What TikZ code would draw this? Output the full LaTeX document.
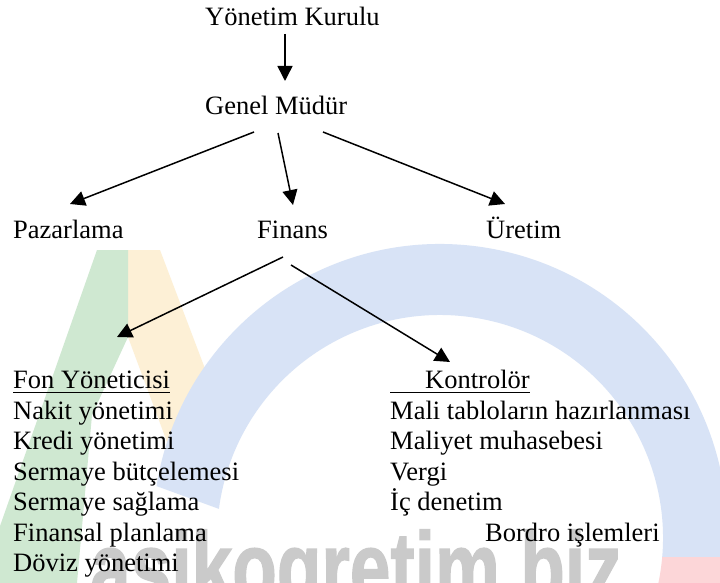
\documentclass[tikz,border=0pt]{standalone}
\usepackage{fontspec}
\usepackage{graphicx}
\setmainfont{Liberation Serif}
\newfontfamily\wmfont[FakeBold=1.5]{Liberation Sans}
\usetikzlibrary{arrows.meta}
\definecolor{wmblue}{HTML}{D8E3F6}
\definecolor{wmgreen}{HTML}{CFE8D1}
\definecolor{wmyellow}{HTML}{FDF0D6}
\definecolor{wmpink}{HTML}{FCD6D8}
\definecolor{wmgrey}{HTML}{CACACA}
\tikzset{
  lbl/.style={anchor=base west, inner sep=0pt, font=\fontsize{26.5}{30}\selectfont},
  arr/.style={line width=1.5pt, -{Triangle[length=15pt,width=15pt]}},
  uline/.style={line width=1.7pt}
}
\begin{document}
\begin{tikzpicture}[x=1pt,y=-1pt]
\useasboundingbox (0,0) rectangle (720,583);
\fill[white] (0,0) rectangle (720,583);
% ---- watermark ----
\fill[wmyellow] (128,250) -- (160,250) -- (215,395) -- (170,450) -- (128,337) -- cycle;
\fill[wmgreen] (97,250) -- (128,250) -- (128,337) -- (92,415) -- (77,583) -- (-20,583) -- cycle;
\coordinate (ro) at (440,531);
\coordinate (ri) at (440,538);
\begin{scope}
  \clip (0,0) rectangle (720,557);
  \fill[wmblue] ([shift={(-171:287)}]ro) arc[start angle=-171,end angle=60,radius=287]
     -- ([shift={(60:223)}]ri) arc[start angle=60,end angle=-172.5,radius=223] -- cycle;
\end{scope}
\begin{scope}
  \clip (0,557) rectangle (720,583);
  \fill[wmpink] ([shift={(-171:287)}]ro) arc[start angle=-171,end angle=60,radius=287]
     -- ([shift={(60:223)}]ri) arc[start angle=60,end angle=-172.5,radius=223] -- cycle;
\end{scope}
\node[anchor=base west, inner sep=0pt, text=wmgrey, font=\wmfont\bfseries\fontsize{100}{100}\selectfont] (wm) at (90,602) {\scalebox{0.73}[1]{asikogretim.biz}};
% ---- chart ----
\node[lbl] (yk) at (205,26) {Yönetim Kurulu};
\node[lbl] (gm) at (205,115) {Genel Müdür};
\node[lbl] (paz) at (13,238) {Pazarlama};
\node[lbl] (fin) at (257,238) {Finans};
\node[lbl] (ure) at (486,238) {Üretim};
\node[lbl] (fon) at (13,388) {Fon Yöneticisi};
\node[lbl] (kon) at (390,388) {\hspace*{35pt}Kontrolör};
\draw[uline] ([yshift=-4.5pt]fon.base west) -- ([yshift=-4.5pt]fon.base east);
\draw[uline] ([yshift=-4.5pt]kon.base west) -- ([yshift=-4.5pt]kon.base east);
\node[lbl] (l1) at (13,419) {Nakit yönetimi};
\node[lbl] (l2) at (13,449.5) {Kredi yönetimi};
\node[lbl] (l3) at (13,480) {Sermaye bütçelemesi};
\node[lbl] (l4) at (13,510.5) {Sermaye sağlama};
\node[lbl] (l5) at (13,541) {Finansal planlama};
\node[lbl] (l6) at (13,571.5) {Döviz yönetimi};
\node[lbl] (r1) at (390,419) {Mali tabloların hazırlanması};
\node[lbl] (r2) at (390,449.5) {Maliyet muhasebesi};
\node[lbl] (r3) at (390,480) {Vergi};
\node[lbl] (r4) at (390,510.5) {İç denetim};
\node[lbl] (r5) at (485,541) {Bordro işlemleri};
% connector ends
\coordinate (yk-out) at (285,34);
\coordinate (gm-in) at (285,81);
\coordinate (gm-o1) at (254,132);
\coordinate (gm-o2) at (278,133);
\coordinate (gm-o3) at (323,132);
\coordinate (paz-in) at (70,204);
\coordinate (fin-in) at (293,205);
\coordinate (ure-in) at (505,204);
\coordinate (fin-o1) at (283,257);
\coordinate (fin-o2) at (291,265);
\coordinate (fon-in) at (117,337);
\coordinate (kon-in) at (450,362);
\draw[arr] (yk-out) -- (gm-in);
\draw[arr] (gm-o1) -- (paz-in);
\draw[arr] (gm-o2) -- (fin-in);
\draw[arr] (gm-o3) -- (ure-in);
\draw[arr] (fin-o1) -- (fon-in);
\draw[arr] (fin-o2) -- (kon-in);
\end{tikzpicture}
\end{document}
